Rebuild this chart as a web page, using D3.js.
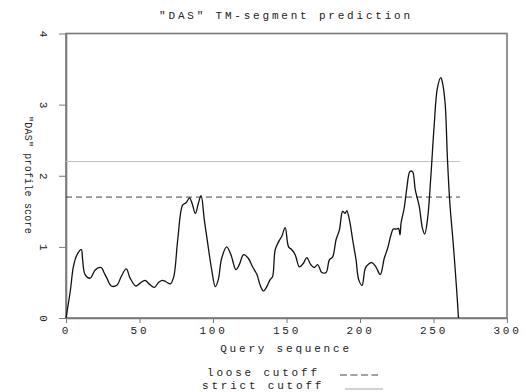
<!DOCTYPE html>
<html>
<head>
<meta charset="utf-8">
<script src="https://cdn.jsdelivr.net/npm/d3@7"></script>
<style>
  body { margin: 0; background: #fff; }
  text { font-family: "Liberation Mono", "DejaVu Sans Mono", monospace; fill: #222; }
</style>
</head>
<body>
<script>
// residue positions and DAS profile score
const positions = [0, 3, 5, 7.5, 10.4, 11.3, 13, 16.5, 20, 24, 25.6, 27.8, 30.8, 34.6, 37.5, 41, 43.6, 47.5,
  50.4, 53.8, 56.5, 60.2, 62.9, 65.5, 68, 71, 73.3, 76, 79.4, 81.7, 84, 85.8, 88, 90, 91.9, 94.1, 96.4,
  99.1, 101.6, 103.6, 105.9, 109.3, 112.2, 115.6, 117.9, 120.8, 124, 126.9, 129.9, 132.1, 134.4, 136.6,
  138.9, 140.5, 142.3, 144.6, 146.8, 149.1, 151.4, 153.6, 155.9, 158.8, 161.5, 163.8, 166.5, 168.8,
  171.2, 174, 176.9, 179.2, 181.4, 183.7, 186, 188.2, 189.9, 191, 193, 195, 197.3, 199.1, 201.4, 203.6,
  205.9, 208.1, 210.8, 213.8, 216.5, 218.8, 221.1, 222.6, 224.9, 226.2, 227.2, 227.9, 230.1, 231.7,
  234, 235.7, 237.6, 240.3, 242.5, 244, 246, 248.2, 250.4, 252.7, 255, 256.1, 257.9, 259.5, 261.1,
  263.4, 265.6, 267]
const scores = [0, 0.39, 0.72, 0.89, 0.96, 0.82, 0.61, 0.56, 0.68, 0.71, 0.65, 0.56, 0.45, 0.46, 0.58, 0.69, 0.56, 0.45,
  0.49, 0.53, 0.48, 0.43, 0.5, 0.53, 0.51, 0.48, 0.58, 1.1, 1.59, 1.62, 1.69, 1.61, 1.47, 1.61, 1.72, 1.38, 1.05,
  0.68, 0.44, 0.54, 0.84, 1.0, 0.89, 0.68, 0.75, 0.89, 0.84, 0.72, 0.61, 0.46, 0.38, 0.44,
  0.54, 0.58, 0.96, 1.07, 1.15, 1.27, 1.0, 0.96, 0.89, 0.72, 0.77, 0.85, 0.75, 0.71,
  0.75, 0.64, 0.64, 0.82, 0.86, 1.1, 1.24, 1.5, 1.47, 1.51, 1.36, 1.1, 0.82, 0.54, 0.46, 0.7,
  0.76, 0.78, 0.72, 0.61, 0.84, 0.98, 1.17, 1.25, 1.25, 1.26, 1.17, 1.33, 1.55, 1.8,
  2.06, 2.06, 1.8, 1.57, 1.26, 1.18, 1.4, 1.99, 2.69, 3.24, 3.38, 3.31, 3.02, 2.23, 1.62,
  1.05, 0.44, 0]

const xTicks = [0, 50, 100, 150, 200, 250, 300]
const yTicks = [0, 1, 2, 3, 4]
const looseCutoff = 1.7
const strictCutoff = 2.2
const seqLength = 268

const width = 524, height = 392
const margin = { top: 33.5, right: 17, bottom: 74, left: 66 }

const svg = d3.select("body").append("svg")
  .attr("width", width)
  .attr("height", height)

const x = d3.scaleLinear().domain([0, 300]).range([margin.left, width - margin.right])
const y = d3.scaleLinear().domain([0, 4]).range([height - margin.bottom, margin.top])

const axisColor = "#7a7a7a"
const spacing = "2.8px"

// frame
svg.append("rect")
  .attr("x", x(0)).attr("y", y(4))
  .attr("width", x(300) - x(0)).attr("height", y(0) - y(4))
  .attr("fill", "none").attr("stroke", axisColor).attr("stroke-width", 1.6)

// y axis
const yAxis = svg.append("g")
  .attr("transform", `translate(${x(0)},0)`)
  .call(d3.axisLeft(y).tickValues(yTicks).tickFormat(d3.format("d")).tickSize(7).tickSizeOuter(0))
yAxis.select(".domain").attr("stroke", axisColor).attr("stroke-width", 1.6)
yAxis.selectAll(".tick line").attr("stroke", axisColor)
yAxis.selectAll(".tick text")
  .attr("x", 0).attr("dy", null)
  .attr("transform", "translate(-23,0) rotate(90)")
  .attr("text-anchor", "middle")
  .attr("dominant-baseline", "central")
  .style("font-size", "11px").style("letter-spacing", "0px")
  .style("font-family", null)

// x axis
const xAxis = svg.append("g")
  .attr("transform", `translate(0,${y(0)})`)
  .call(d3.axisBottom(x).tickValues(xTicks).tickSize(5).tickSizeOuter(0))
xAxis.select(".domain").attr("stroke", axisColor).attr("stroke-width", 1.6)
xAxis.selectAll(".tick line").attr("stroke", axisColor)
xAxis.selectAll(".tick text")
  .attr("y", 8)
  .style("font-size", "11px").style("letter-spacing", spacing)
  .style("font-family", null)

// cutoff lines
svg.append("line")
  .attr("x1", x(0)).attr("x2", x(seqLength))
  .attr("y1", y(strictCutoff)).attr("y2", y(strictCutoff))
  .attr("stroke", "#c4c4c4").attr("stroke-width", 1)
svg.append("line")
  .attr("x1", x(0)).attr("x2", x(seqLength))
  .attr("y1", y(looseCutoff)).attr("y2", y(looseCutoff))
  .attr("stroke", "#444").attr("stroke-width", 1)
  .attr("stroke-dasharray", "6,4")

// profile curve
const line = d3.line()
  .x((d, i) => x(positions[i]))
  .y(d => y(d))
  .curve(d3.curveCatmullRom.alpha(0.5))

svg.append("path")
  .datum(scores)
  .attr("d", line)
  .attr("fill", "none")
  .attr("stroke", "#111")
  .attr("stroke-width", 1.3)

// titles
svg.append("text")
  .attr("x", 286).attr("y", 19)
  .attr("text-anchor", "middle")
  .style("font-size", "11px").style("letter-spacing", spacing)
  .text('"DAS" TM-segment prediction')

svg.append("text")
  .attr("x", 286).attr("y", 352)
  .attr("text-anchor", "middle")
  .style("font-size", "11px").style("letter-spacing", spacing)
  .text("Query sequence")

svg.append("text")
  .attr("transform", "translate(27,175) rotate(90)")
  .attr("text-anchor", "middle")
  .attr("dominant-baseline", "central")
  .style("font-size", "10px").style("letter-spacing", "0.2px")
  .text('"DAS" profile score')

// legend
const legend = svg.append("g")
legend.append("text")
  .attr("x", 207).attr("y", 376)
  .style("font-size", "11px").style("letter-spacing", spacing)
  .text("loose cutoff")
legend.append("line")
  .attr("x1", 340).attr("x2", 378).attr("y1", 375).attr("y2", 375)
  .attr("stroke", "#444").attr("stroke-width", 1).attr("stroke-dasharray", "7,3.5")
legend.append("text")
  .attr("x", 202).attr("y", 389)
  .style("font-size", "11px").style("letter-spacing", spacing)
  .text("strict cutoff")
legend.append("line")
  .attr("x1", 345).attr("x2", 383).attr("y1", 389).attr("y2", 389)
  .attr("stroke", "#c4c4c4").attr("stroke-width", 1.5)
</script>
</body>
</html>
